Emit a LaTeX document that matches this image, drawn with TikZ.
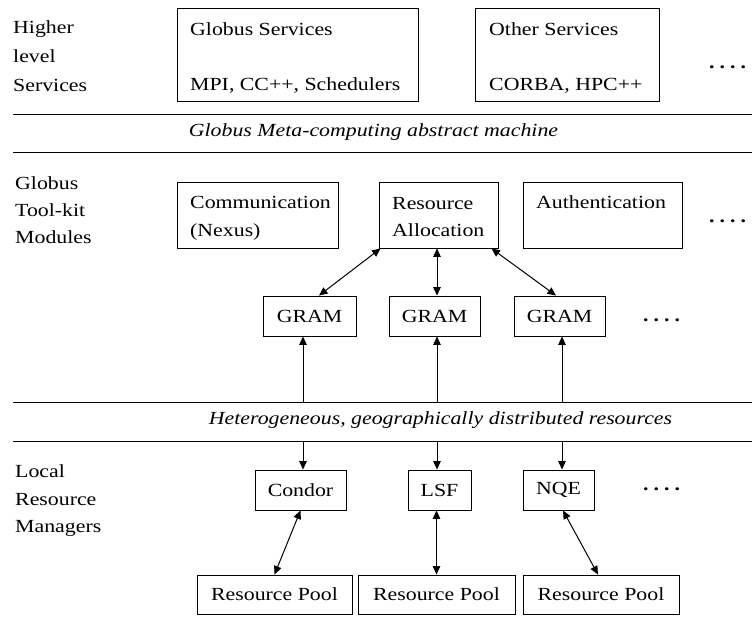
\documentclass[tikz,border=0pt]{standalone}
\usepackage{fontspec}
\setmainfont{Liberation Serif}[FakeStretch=1.18]
\usetikzlibrary{arrows.meta,calc}
\newcommand{\fourdots}{\textbf{.\hspace{5pt}.\hspace{5pt}.\hspace{5pt}.}}
\begin{document}
\begin{tikzpicture}[x=1pt,y=-1pt,
  every node/.style={font=\fontsize{18.5}{22}\selectfont, inner sep=0pt},
  box/.style={draw, line width=0.9pt, rectangle},
  txt/.style={anchor=base west},
  itxt/.style={font=\fontsize{18.5}{22}\selectfont\itshape},
  sepline/.style={line width=1pt},
  arr/.style={line width=1pt, -{Triangle[length=8.5pt,width=7.5pt]}},
  darr/.style={line width=1pt, {Triangle[length=8.5pt,width=7.5pt]}-{Triangle[length=8.5pt,width=7.5pt]}}]
\useasboundingbox (0,0) rectangle (752,616);

% left labels
\node[txt] (hl1) at (13,33) {Higher};
\node[txt] (hl2) at (13,62) {level};
\node[txt] (hl3) at (13,91) {Services};
\node[txt] (gt1) at (15,189) {Globus};
\node[txt] (gt2) at (15,216) {Tool-kit};
\node[txt] (gt3) at (15,243) {Modules};
\node[txt] (lr1) at (15,477) {Local};
\node[txt] (lr2) at (15,505) {Resource};
\node[txt] (lr3) at (15,532) {Managers};

% top row
\node[box, minimum width=241pt, minimum height=93pt] (gs) at (297.5,54.5) {};
\node[txt] (gst1) at (190,35) {Globus Services};
\node[txt] (gst2) at (190,90) {MPI, CC++, Schedulers};
\node[box, minimum width=184pt, minimum height=93pt] (os) at (567,54.5) {};
\node[txt] (ost1) at (489,35) {Other Services};
\node[txt] (ost2) at (489,90) {CORBA, HPC++};
\node[txt] (dots1) at (709,68) {\fourdots};

% separator lines
\coordinate (l1w) at (13,114); \coordinate (l1e) at (752,114);
\coordinate (l2w) at (13,152); \coordinate (l2e) at (752,152);
\coordinate (l3w) at (13,402); \coordinate (l3e) at (752,402);
\coordinate (l4w) at (13,441); \coordinate (l4e) at (752,441);
\draw[sepline] (l1w) -- (l1e);
\draw[sepline] (l2w) -- (l2e);
\draw[sepline] (l3w) -- (l3e);
\draw[sepline] (l4w) -- (l4e);
\node[itxt] (gm) at (373.5,132) {Globus Meta-computing abstract machine};
\node[itxt] (hg) at (440.5,420) {Heterogeneous, geographically distributed resources};

% toolkit modules
\node[box, minimum width=161pt, minimum height=66pt] (comm) at (257.5,215) {};
\node[txt] (commt1) at (190,208) {Communication};
\node[txt] (commt2) at (190,236) {(Nexus)};
\node[box, minimum width=119pt, minimum height=66pt] (ra) at (438.5,215) {};
\node[txt] (rat1) at (392,209) {Resource};
\node[txt] (rat2) at (392,236) {Allocation};
\node[box, minimum width=159pt, minimum height=66pt] (auth) at (602.5,215) {};
\node[txt] (autht) at (536,208) {Authentication};
\node[txt] (dots2) at (709,222.5) {\fourdots};

% GRAM
\node[box, minimum width=93pt, minimum height=40pt] (gram1) at (309.5,316) {GRAM};
\node[box, minimum width=91pt, minimum height=40pt] (gram2) at (434.5,316) {GRAM};
\node[box, minimum width=91pt, minimum height=40pt] (gram3) at (559.5,316) {GRAM};
\node[txt] (dots3) at (643,321.5) {\fourdots};

\draw[darr] ([xshift=2pt]ra.south west) -- ([xshift=9.5pt]gram1.north);
\draw[darr] ([xshift=-1.5pt]ra.south) -- ([xshift=2.5pt]gram2.north);
\draw[darr] ([xshift=-7pt]ra.south east) -- ([xshift=-3.5pt]gram3.north);

\coordinate (u1) at (303,402);
\coordinate (u2) at (437,402);
\coordinate (u3) at (562,402);
\draw[arr] (u1) -- (u1 |- gram1.south);
\draw[arr] (u2) -- (u2 |- gram2.south);
\draw[arr] (u3) -- (u3 |- gram3.south);

% local managers
\node[box, minimum width=91pt, minimum height=40pt] (condor) at (300.5,490) {Condor};
\node[box, minimum width=63pt, minimum height=40pt] (lsf) at (439.5,490) {LSF};
\node[box, minimum width=71pt, minimum height=40pt] (nqe) at (558.5,490) {NQE};
\node[txt] (dots4) at (643,490.5) {\fourdots};

\coordinate (d1) at (303,441);
\coordinate (d2) at (437,441);
\coordinate (d3) at (562,441);
\draw[arr] (d1) -- (d1 |- condor.north);
\draw[arr] (d2) -- (d2 |- lsf.north);
\draw[arr] (d3) -- (d3 |- nqe.north);

% resource pools
\node[box, minimum width=155pt, minimum height=39pt] (pool1) at (274.5,594.5) {Resource Pool};
\node[box, minimum width=157pt, minimum height=39pt] (pool2) at (436.5,594.5) {Resource Pool};
\node[box, minimum width=156pt, minimum height=39pt] (pool3) at (601,594.5) {Resource Pool};

\draw[darr] (condor.south) -- (pool1.north);
\draw[darr] (lsf.south -| pool2.north) -- (pool2.north);
\draw[darr] ([xshift=4.5pt]nqe.south) -- ([xshift=-3pt]pool3.north);
\end{tikzpicture}
\end{document}
